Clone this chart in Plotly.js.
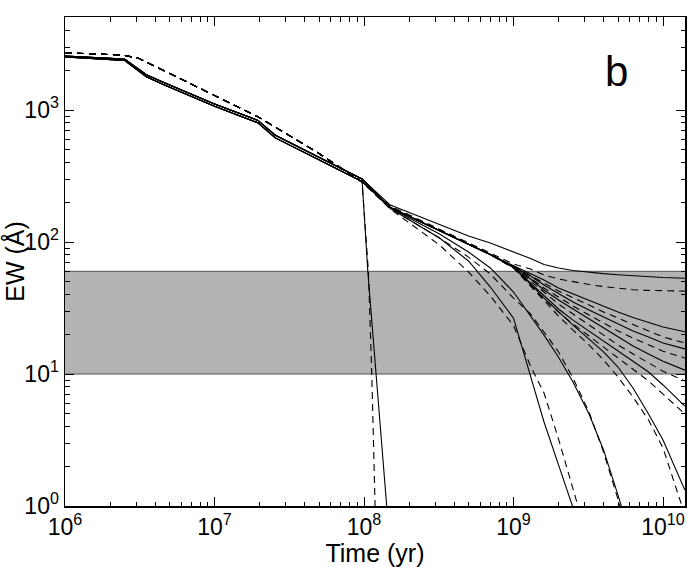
<!DOCTYPE html>
<html>
<head>
<meta charset="utf-8">
<script src="https://cdn.plot.ly/plotly-3.0.1.min.js"></script>
<style>html,body{margin:0;padding:0;background:#fff;}#chart{width:691px;height:567px;}</style>
</head>
<body>
<div id="chart"></div>
<script>
// ---- data (time in yr, EW in Angstrom) ----
const tEarlyS  = [1e6, 2.5e6, 3.5e6, 4.5e6, 1e7, 1.95e7, 2.55e7, 9.7e7];
const ewEarlySU = [2560, 2430, 1850, 1630, 1110, 835, 645, 300];
const ewEarlySL = [2520, 2380, 1790, 1570, 1070, 800, 615, 288];
const tEarlyD  = [1e6, 2.45e6, 3.1e6, 1.95e7, 4.8e7, 9.7e7];
const ewEarlyD = [2720, 2610, 2470, 890, 483, 285];

const tLate = [1.5e8, 3.2e8, 5e8, 7e8, 1e9, 1.3e9, 1.6e9, 2e9, 2.5e9, 3.2e9, 4e9, 5e9, 6.3e9, 8e9, 1e10, 1.4e10];

const ewS1 = [190.6, 134.6, 111.0, 98.2, 84.7, 75.0, 67.6, 63.6, 60.8, 58.9, 57.6, 56.5, 55.5, 54.6, 53.8, 53.1];
const ewD1 = [187.5, 125.4, 98.2, 82.6, 68.1, 62.4, 56.2, 52.5, 49.8, 47.6, 46.0, 44.5, 43.5, 43.0, 42.7, 42.5];
const ewS2 = [182.5, 122.2, 96.6, 80.4, 66.4, 58.2, 51.5, 44.8, 40.4, 36.4, 32.7, 29.5, 26.8, 24.5, 22.7, 20.9];
const ewD2 = [184.1, 123.3, 96.6, 80.4, 65.8, 56.2, 48.9, 42.5, 37.6, 33.3, 29.5, 26.5, 23.5, 21.2, 19.1, 17.2];
const ewS3 = [182.5, 122.2, 96.6, 80.4, 65.2, 55.2, 47.2, 40.4, 35.1, 30.5, 27.0, 23.9, 21.2, 19.1, 17.2, 15.5];
const ewD3 = [184.1, 123.3, 96.6, 80.4, 65.2, 53.4, 44.8, 38.3, 32.7, 28.0, 24.3, 21.2, 18.7, 16.6, 14.9, 13.2];
const ewS4 = [182.5, 122.2, 96.6, 80.4, 64.7, 52.5, 43.3, 36.4, 31.1, 26.1, 22.3, 19.1, 16.3, 14.2, 12.5, 10.7];
const ewD4 = [184.1, 123.3, 96.6, 80.4, 64.7, 50.7, 41.1, 33.9, 28.5, 23.5, 19.7, 16.6, 14.2, 12.1, 10.5, 8.85];
const ewS5 = [182.5, 122.2, 96.6, 80.4, 64.1, 48.9, 39.0, 31.1, 25.6, 21.2, 17.8, 14.9, 12.5, 10.35, 8.26, 5.72];
const ewD5 = [184.1, 123.3, 96.6, 80.4, 63.6, 47.2, 37.0, 29.5, 23.9, 19.4, 16.0, 13.2, 10.9, 8.85, 7.05, 4.98];
const ewS6 = [182.5, 122.2, 96.6, 80.4, 64.1, 48.1, 37.6, 29.5, 23.5, 18.4, 14.7, 11.3, 7.83, 4.98, 3.16, 1.32];
const ewD6 = [184.1, 123.3, 96.6, 80.4, 63.6, 46.4, 35.7, 27.5, 21.5, 16.6, 12.8, 9.49, 6.69, 4.48, 2.75, 0.855];
const ewS7 = [181.1, 115.0, 84.0, 63.6, 41.8, 27.5, 19.7, 13.4, 8.70, 4.98, 2.66, 1.21, 0.507];
const ewD7 = [179.5, 107.2, 76.9, 57.2, 37.6, 28.5, 20.8, 14.7, 9.33, 5.15, 2.56, 1.11, 0.48];
const ewS8 = [179.5, 107.2, 71.8, 45.6, 26.5, 9.49, 4.33, 2.05, 1.0, 0.426];
const ewD8 = [177.8, 94.9, 59.3, 39.0, 23.3, 11.5, 7.18, 3.22, 1.35, 0.507];

// truncated models dropping just after 1e8 yr
const tS9  = [1.06e8, 1.2e8, 1.42e8, 1.49e8];
const ewS9 = [60, 10, 1.0, 0.5];
const tD9  = [1.07e8, 1.127e8, 1.186e8, 1.204e8];
const ewD9 = [60, 10, 1.0, 0.5];

// shaded observed range
const bandLow = 10, bandHigh = 60;

const xTickVals = [1e6, 1e7, 1e8, 1e9, 1e10];
const xTickText = ['10<sup>6</sup>', '10<sup>7</sup>', '10<sup>8</sup>', '10<sup>9</sup>', '10<sup>10</sup>'];
const yTickVals = [1, 10, 100, 1000];
const yTickText = ['10<sup>0</sup>', '10<sup>1</sup>', '10<sup>2</sup>', '10<sup>3</sup>'];

// ---- build traces ----
const FONT = 'Liberation Sans, Arial, Helvetica, sans-serif';
function minorVals(lo, hi) {
  const v = [];
  for (let d = lo; d <= hi; d++) for (let m = 2; m <= 9; m++) v.push(m * Math.pow(10, d));
  return v;
}

function lateTrace(tE, ewE, ewL, dashed) {
  const x = tE.concat(tLate.slice(0, ewL.length));
  const y = ewE.concat(ewL);
  return {x, y, type: 'scatter', mode: 'lines', hoverinfo: 'skip', showlegend: false,
    line: {color: '#000', width: 1.1, dash: dashed ? '7px,5px' : 'solid'}};
}

const traces = [];
traces.push({
  x: [1e5, 1e11, 1e11, 1e5, 1e5], y: [bandLow, bandLow, bandHigh, bandHigh, bandLow],
  type: 'scatter', mode: 'lines', fill: 'toself', fillcolor: '#b3b3b3',
  line: {color: '#555', width: 1}, hoverinfo: 'skip', showlegend: false
});

const solids = [[ewEarlySU, ewS1], [ewEarlySL, ewS2], [ewEarlySU, ewS3], [ewEarlySL, ewS4],
                [ewEarlySU, ewS5], [ewEarlySL, ewS6], [ewEarlySU, ewS7], [ewEarlySL, ewS8]];
const dashes = [ewD1, ewD2, ewD3, ewD4, ewD5, ewD6, ewD7, ewD8];

dashes.forEach(d => traces.push(lateTrace(tEarlyD, ewEarlyD, d, true)));
traces.push({x: tEarlyD.concat(tD9), y: ewEarlyD.concat(ewD9), type: 'scatter', mode: 'lines',
  hoverinfo: 'skip', showlegend: false, line: {color: '#000', width: 1.1, dash: '7px,5px'}});
solids.forEach(s => traces.push(lateTrace(tEarlyS, s[0], s[1], false)));
traces.push({x: tEarlyS.concat(tS9), y: ewEarlySU.concat(ewS9), type: 'scatter', mode: 'lines',
  hoverinfo: 'skip', showlegend: false, line: {color: '#000', width: 1.1}});

const axisCommon = {
  type: 'log', ticks: 'inside', ticklen: 9, tickwidth: 1, tickcolor: '#000',
  showline: true, linecolor: '#000', linewidth: 1.5, mirror: 'ticks',
  showgrid: false, zeroline: false, tickmode: 'array',
  tickfont: {family: FONT, size: 23, color: '#000'}
};

const layout = {
  width: 691, height: 567,
  margin: {l: 65, r: 6, t: 17, b: 61},
  paper_bgcolor: '#fff', plot_bgcolor: '#fff',
  font: {family: FONT, color: '#000'},
  xaxis: Object.assign({}, axisCommon, {
    range: [6, 10.147], tickvals: xTickVals, ticktext: xTickText,
    minor: {tickmode: 'array', tickvals: minorVals(6, 10), ticks: 'inside', ticklen: 4.5, tickcolor: '#000', tickwidth: 1, showgrid: false},
    title: {text: 'Time (yr)', font: {family: FONT, size: 25, color: '#000'}, standoff: 1}
  }),
  yaxis: Object.assign({}, axisCommon, {
    range: [0, 3.705], tickvals: yTickVals, ticktext: yTickText,
    minor: {tickmode: 'array', tickvals: minorVals(0, 3), ticks: 'inside', ticklen: 4.5, tickcolor: '#000', tickwidth: 1, showgrid: false},
    title: {text: 'EW (Å)', font: {family: FONT, size: 25, color: '#000'}, standoff: 0}
  }),
  annotations: [{
    xref: 'paper', yref: 'paper', x: 0.889, y: 0.888, xanchor: 'center', yanchor: 'middle',
    text: 'b', showarrow: false, font: {family: FONT, size: 42, color: '#000'}
  }]
};

Plotly.newPlot('chart', traces, layout, {staticPlot: true, displayModeBar: false});
</script>
</body>
</html>
